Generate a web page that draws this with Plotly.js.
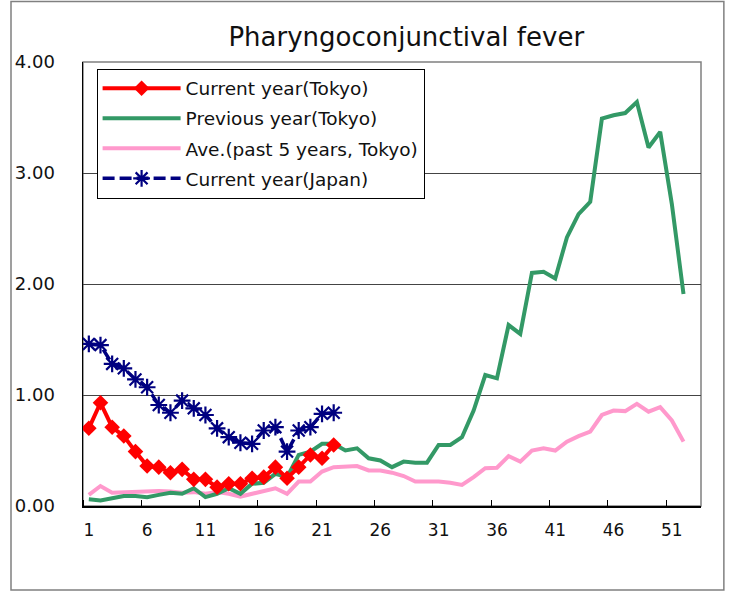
<!DOCTYPE html>
<html>
<head>
<meta charset="utf-8">
<script src="https://cdn.plot.ly/plotly-3.0.1.min.js"></script>
<style>
  html, body { margin: 0; padding: 0; background: #fff; }
  #chart { width: 736px; height: 591px; }
</style>
</head>
<body>
<div id="chart"></div>
<script>
// ---- data ----
const weeks = [1,2,3,4,5,6,7,8,9,10,11,12,13,14,15,16,17,18,19,20,21,22,23,24,25,26,
               27,28,29,30,31,32,33,34,35,36,37,38,39,40,41,42,43,44,45,46,47,48,49,50,51,52];
const weeksCurrent = [1,2,3,4,5,6,7,8,9,10,11,12,13,14,15,16,17,18,19,20,21,22];

const currentTokyo = [0.70,0.93,0.71,0.63,0.49,0.36,0.35,0.30,0.33,0.24,0.24,0.17,0.20,0.20,0.25,0.26,0.35,0.25,0.35,0.46,0.43,0.55];

const previousTokyo = [0.06,0.05,0.07,0.09,0.09,0.08,0.10,0.12,0.11,0.16,0.08,0.11,0.16,0.11,0.20,0.21,0.29,0.26,0.46,0.49,0.56,0.56,
                       0.50,0.52,0.43,0.41,0.35,0.40,0.39,0.39,0.55,0.55,0.62,0.86,1.18,1.15,1.63,1.55,2.10,2.11,2.05,2.42,
                       2.63,2.74,3.49,3.52,3.54,3.64,3.23,3.37,2.72,1.91];

const avg5Tokyo = [0.10,0.18,0.12,0.125,0.13,0.13,0.135,0.13,0.12,0.125,0.11,0.125,0.11,0.085,0.11,0.13,0.16,0.11,0.22,0.22,0.31,0.35,
                   0.355,0.36,0.32,0.32,0.30,0.27,0.22,0.22,0.22,0.21,0.19,0.26,0.34,0.345,0.45,0.40,0.50,0.52,0.50,0.58,
                   0.63,0.67,0.82,0.86,0.855,0.92,0.85,0.89,0.77,0.58];

const currentJapan = [1.46,1.45,1.28,1.24,1.14,1.07,0.91,0.84,0.95,0.88,0.82,0.70,0.62,0.57,0.56,0.68,0.71,0.49,0.68,0.71,0.83,0.84];

const xTickVals = [1,6,11,16,21,26,31,36,41,46,51];
const xTickText = ["1","6","11","16","21","26","31","36","41","46","51"];
const yTickVals = [0,1,2,3,4];
const yTickText = ["0.00","1.00","2.00","3.00","4.00"];

const names = ["Current year(Tokyo)","Previous year(Tokyo)","Ave.(past 5 years, Tokyo)","Current year(Japan)"];
const titleText = "Pharyngoconjunctival fever";

// ---- traces (draw order: avg, previous, current Tokyo, Japan) ----
const traces = [
  {
    x: weeks, y: avg5Tokyo, name: names[2], type: 'scatter', mode: 'lines',
    line: { color: '#FF99CC', width: 4 }, legendrank: 3, legendgroup: 'c'
  },
  {
    x: weeks, y: previousTokyo, name: names[1], type: 'scatter', mode: 'lines',
    line: { color: '#339966', width: 4 }, legendrank: 2, legendgroup: 'b'
  },
  {
    x: weeksCurrent, y: currentTokyo, name: names[0], type: 'scatter', mode: 'lines+markers',
    line: { color: '#FF0000', width: 4 },
    marker: { symbol: 'diamond', size: 12, color: '#FF0000' },
    legendrank: 1, legendgroup: 'a'
  },
  {
    x: weeksCurrent, y: currentJapan, name: names[3], type: 'scatter', mode: 'lines+markers',
    line: { color: '#000080', width: 3.5, dash: '12px,5px' },
    marker: { symbol: 'asterisk-open', size: 14, color: '#000080', line: { color: '#000080', width: 2.2 } },
    legendrank: 4, legendgroup: 'd'
  }
];

const FONT = 'DejaVu Sans, sans-serif';

const layout = {
  width: 736, height: 591,
  paper_bgcolor: '#ffffff', plot_bgcolor: '#ffffff',
  margin: { l: 83, r: 35, t: 62, b: 85, pad: 0 },
  font: { family: FONT, color: '#111111', size: 18 },
  title: {
    text: titleText,
    font: { family: FONT, size: 26, color: '#111111' },
    x: 0.552, xanchor: 'center', xref: 'container',
    y: 0.937, yanchor: 'middle', yref: 'container'
  },
  showlegend: true,
  legend: {
    x: 0.022, y: 0.985, xanchor: 'left', yanchor: 'top',
    bgcolor: '#ffffff', bordercolor: '#000000', borderwidth: 1,
    font: { family: FONT, size: 18.5, color: '#111111' },
    itemwidth: 78, tracegroupgap: 3, traceorder: 'grouped'
  },
  xaxis: {
    range: [0.5, 53.5], fixedrange: true,
    tickmode: 'array', tickvals: xTickVals, ticktext: xTickText,
    ticks: '', showgrid: false, zeroline: false,
    showline: true, linecolor: '#000000', linewidth: 1.5,
    tickfont: { family: FONT, size: 17, color: '#111111' },
    ticklabelstandoff: 8,
    minor: { tickmode: 'linear', tick0: 0.5, dtick: 5, ticks: 'inside', ticklen: 6, tickwidth: 1, tickcolor: '#000000', showgrid: false }
  },
  yaxis: {
    range: [0, 4], fixedrange: true,
    tickmode: 'array', tickvals: yTickVals, ticktext: yTickText,
    ticks: '', showgrid: true, gridcolor: '#444444', gridwidth: 1, zeroline: false,
    showline: true, linecolor: '#000000', linewidth: 1.5,
    tickfont: { family: FONT, size: 18, color: '#111111' },
    ticklabelstandoff: 23
  },
  shapes: [
    { type: 'rect', xref: 'paper', yref: 'paper', x0: 0, x1: 1, y0: 0, y1: 1,
      line: { color: '#808080', width: 1.5 }, layer: 'below' },
    { type: 'rect', xref: 'paper', yref: 'paper', x0: -0.1165, x1: 1.037, y0: -0.189, y1: 1.136,
      line: { color: '#808080', width: 1.5 }, layer: 'below' }
  ]
};

Plotly.newPlot('chart', traces, layout, { displayModeBar: false, staticPlot: true });
</script>
</body>
</html>
